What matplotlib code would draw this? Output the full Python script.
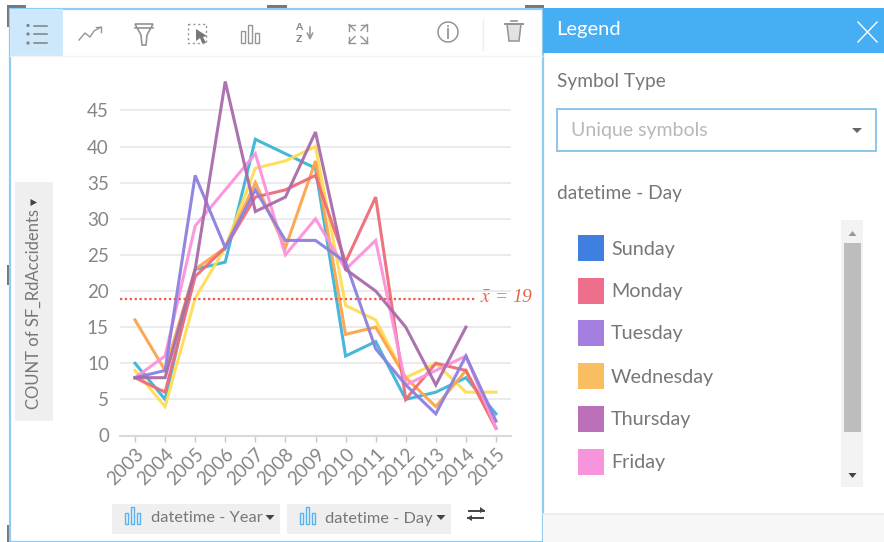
import matplotlib
matplotlib.use("Agg")
import matplotlib.pyplot as plt
from matplotlib.patches import Rectangle, Circle, Polygon

plt.rcParams['font.family'] = ['Lato', 'DejaVu Sans']
plt.rcParams['mathtext.fontset'] = 'stix'

years = list(range(2003, 2016))
sunday = [10, 5, 23, 24, 41, 39, 37, 11, 13, 5, 6, 8, 3]
monday = [8, 6, 22, 26, 33, 34, 36, 24, 33, 5, 10, 9, 1]
tuesday = [8, 9, 36, 26, 34, 27, 27, 24, 12, 7, 3, 11, 2]
wednesday = [16, 9, 23, 26, 35, 26, 38, 14, 15, 8, 4, 9, 1]
thursday = [8, 8, 23, 49, 31, 33, 42, 23, 20, 15, 7, 15, None]
friday = [8, 11, 29, 34, 39, 25, 30, 23, 27, 7, 9, 11, 1]
saturday = [9, 4, 19, 26, 37, 38, 40, 18, 16, 8, 10, 6, 6]
mean_value = 18.9
yticks = [0, 5, 10, 15, 20, 25, 30, 35, 40, 45]
legend_days = ["Sunday", "Monday", "Tuesday", "Wednesday", "Thursday", "Friday"]
legend_colors = ["#3f7fe0", "#ee6f8c", "#a47fe0", "#f9bd62", "#bb70b8", "#f795dc"]

W, H = 884, 542
fig = plt.figure(figsize=(W / 100, H / 100), dpi=100, facecolor="white")

# pixel overlay for the surrounding interface
ui = fig.add_axes([0, 0, 1, 1], zorder=0)
ui.set_xlim(0, W)
ui.set_ylim(H, 0)
ui.axis("off")

GREY = "#777777"
LBLUE = "#8fcbf2"
for (x, y, w, h) in [(7, 5, 19, 4), (7, 5, 3, 22), (267, 5, 20, 4), (525, 5, 19, 4), (541, 5, 3, 22),
                     (7, 265, 3, 20), (7, 525, 3, 17), (267, 539, 20, 3), (541, 525, 3, 17)]:
    ui.add_patch(Rectangle((x, y), w, h, fc="#777777", ec="none", zorder=0))
ui.add_patch(Rectangle((9.5, 8.5), 533, 533, fc="white", ec=LBLUE, lw=1.6, zorder=0.5))
ui.add_patch(Rectangle((10, 9), 53, 47, fc="#cde8fb", ec="none", zorder=1))
ui.plot([10, 542], [56, 56], color="#f4f4f4", lw=1)

# toolbar icons
ic = "#949494"
for y in (25.5, 34, 43):
    ui.add_patch(Circle((28, y), 1.6, fc="#808080", ec="none", zorder=2))
    ui.plot([34, 47], [y, y], color="#808080", lw=1.1, zorder=2)
ui.plot([79, 85, 90, 94, 101], [40, 33, 37, 31, 27], color=ic, lw=1.0)
ui.plot([96, 101, 101], [27, 27, 32], color=ic, lw=1.0)
ui.add_patch(Polygon([(135, 24), (153, 24), (147, 35), (146, 45), (142, 45), (141, 35)], fc="white", ec=ic, lw=1.2))
ui.plot([135, 153], [28, 28], color=ic, lw=1.2)
ui.add_patch(Rectangle((188, 24), 18, 19, fc="none", ec=ic, lw=1.0, ls=(0, (1.5, 2))))
ui.add_patch(Polygon([(196, 29), (207, 36), (203, 37), (206, 43), (202, 43), (200, 38), (196, 41)], fc="#777777", ec="none"))
for x, y0 in [(243, 31), (250, 25), (257, 33)]:
    ui.add_patch(Rectangle((x - 2, y0), 4, 43 - y0, fc="white", ec=ic, lw=1.0))
ui.text(299, 28, "A", fontsize=7.5, color="#808080", ha="center", va="center", weight="bold")
ui.text(299, 39, "Z", fontsize=7.5, color="#808080", ha="center", va="center", weight="bold")
ui.annotate("", xy=(310, 43), xytext=(310, 24), arrowprops=dict(arrowstyle="->", color=ic, lw=1.1))
for sx, sy in [(1, 1), (-1, 1), (1, -1), (-1, -1)]:
    cx, cy = 358 - sx * 9, 33.5 - sy * 9
    ui.plot([cx, cx + sx * 6], [cy, cy + sy * 6], color=ic, lw=1.0)
    ui.plot([cx, cx + sx * 6], [cy, cy], color=ic, lw=1.0)
    ui.plot([cx, cx], [cy, cy + sy * 6], color=ic, lw=1.0)
ui.add_patch(Circle((448, 32), 10, fc="none", ec=ic, lw=1.1))
ui.plot([448, 448], [29, 38], color=ic, lw=1.3)
ui.add_patch(Circle((448, 26), 1, fc=ic, ec="none"))
ui.plot([482.5, 482.5], [20, 50], color="#eeeeee", lw=1)
ui.add_patch(Polygon([(507, 24), (521, 24), (519, 41), (509, 41)], fc="#e2e2e2", ec=ic, lw=1.1))
ui.plot([505, 523], [23.5, 23.5], color=ic, lw=1.4)
ui.plot([511, 517], [21, 21], color=ic, lw=1.2)

# y field button
ui.add_patch(Rectangle((15, 182), 38, 239, fc="#efefef", ec="none"))
ui.text(34, 309, "COUNT of SF_RdAccidents", rotation=90, fontsize=12, color=GREY,
        ha="center", va="center")
ui.add_patch(Polygon([(30.5, 199), (30.5, 206), (37, 202.5)], fc="#444444", ec="none"))

# x field buttons
for (x, w, label, tx) in [(112, 168, "datetime - Year", 151), (287, 164, "datetime - Day", 325)]:
    ui.add_patch(Rectangle((x, 504), w, 30, fc="#efefef", ec="none"))
    for dx, y0 in [(0, 513), (6, 507), (12, 513)]:
        ui.add_patch(Rectangle((x + 13 + dx, y0), 3.4, 524 - y0, fc="#eaf5fd", ec="#58b2ee", lw=1))
    ui.text(tx, 518.5, label, fontsize=11.8, color=GREY, ha="left", va="center")
    tri = x + w - 10
    ui.add_patch(Polygon([(tri - 4.5, 515), (tri + 4.5, 515), (tri, 520)], fc="#444444", ec="none"))
ui.plot([469, 484], [510.5, 510.5], color="#444444", lw=1.4)
ui.plot([468, 483], [518, 518], color="#444444", lw=1.4)
ui.add_patch(Polygon([(480, 507), (485, 510.5), (480, 513)], fc="#444444", ec="none"))
ui.add_patch(Polygon([(472, 515), (467, 518), (472, 521)], fc="#444444", ec="none"))

# legend panel
ui.add_patch(Rectangle((543, 8), 341, 45, fc="#46aef2", ec="none"))
ui.text(556, 30, "Legend", fontsize=14.5, color="white", ha="left", va="center")
ui.plot([858, 877], [22, 42], color="white", lw=1)
ui.plot([877, 858], [22, 42], color="white", lw=1)
ui.text(557, 81.5, "Symbol Type", fontsize=13.8, color=GREY, ha="left", va="center")
ui.add_patch(Rectangle((557, 108.5), 319, 42, fc="white", ec="#8fc5e8", lw=1.4))
ui.text(571, 130.5, "Unique symbols", fontsize=14, color="#b8b8b8", ha="left", va="center")
ui.add_patch(Polygon([(852, 128), (862, 128), (857, 133)], fc="#666666", ec="none"))
ui.text(557, 194, "datetime - Day", fontsize=13.8, color=GREY, ha="left", va="center")
for name, col, yc in zip(legend_days, legend_colors, [248, 290.5, 333, 376, 418.5, 461.5]):
    ui.add_patch(Rectangle((578, yc - 13), 26, 26, fc=col, ec="none"))
    ui.text(611, yc + 1, name, fontsize=14.2, color=GREY, ha="left", va="center")
ui.add_patch(Rectangle((841, 220), 22, 267, fc="#f3f3f3", ec="none"))
ui.add_patch(Rectangle((844, 243), 17, 189, fc="#bdbdbd", ec="none"))
ui.add_patch(Polygon([(848.5, 236), (856.5, 236), (852.5, 231)], fc="#999999", ec="none"))
ui.add_patch(Polygon([(848.5, 473), (856.5, 473), (852.5, 478)], fc="#444444", ec="none"))
ui.add_patch(Rectangle((543, 514), 341, 28, fc="#f7f7f7", ec="none"))
ui.plot([543, 884], [514, 514], color="#ebebeb", lw=1.2)

# chart area, aligned on pixel positions
left, right, top, bottom = 120, 511, 72, 435.5
ax = fig.add_axes([left / W, 1 - bottom / H, (right - left) / W, (bottom - top) / H], zorder=2)
ax.patch.set_alpha(0)
x_step = (496 - 135) / 12
ax.set_xlim(2003 - (135 - left) / x_step, 2015 + (right - 496) / x_step)
ax.set_ylim(0, (bottom - top) / 7.225)
ax.yaxis.grid(True, color="#ebebeb", lw=1.4)
ax.set_axisbelow(True)
for s in ("top", "right", "left"):
    ax.spines[s].set_visible(False)
ax.spines["bottom"].set_color("#d9d9d9")
ax.spines["bottom"].set_linewidth(1.5)
ax.set_xticks(years)
ax.set_xticklabels([str(y) for y in years], rotation=45, ha="right", rotation_mode="anchor",
                   fontsize=13.5, color="#868686")
ax.set_yticks(yticks)
ax.set_yticklabels([str(v) for v in yticks], fontsize=13.5, color="#868686")
ax.tick_params(axis="y", length=0, pad=8)
ax.tick_params(axis="x", length=4, width=1, color="#c8c8c8", pad=3, direction="out")

series = [
    (sunday, "#3cb4d8"),
    (saturday, "#ffdd55"),
    (wednesday, "#fba44e"),
    (monday, "#ec6d78"),
    (friday, "#fb92dc"),
    (tuesday, "#8d80e0"),
    (thursday, "#a86bac"),
]
for vals, col in series:
    xs = [y for y, v in zip(years, vals) if v is not None]
    ys = [v for v in vals if v is not None]
    ax.plot(xs, ys, color=col, lw=2.2, alpha=0.95, solid_joinstyle="miter", clip_on=False)

ax.plot([ax.get_xlim()[0], 2014.3], [mean_value, mean_value], color="#f0594a", lw=1.6, ls=(0, (1, 1.2)))
ax.text(2014.47, mean_value + 0.2, r"$\bar{x}$ = 19", family="Liberation Serif", style="italic", fontsize=14,
        color="#e9634f", ha="left", va="center", clip_on=False)

fig.savefig("out.png", dpi=100)
